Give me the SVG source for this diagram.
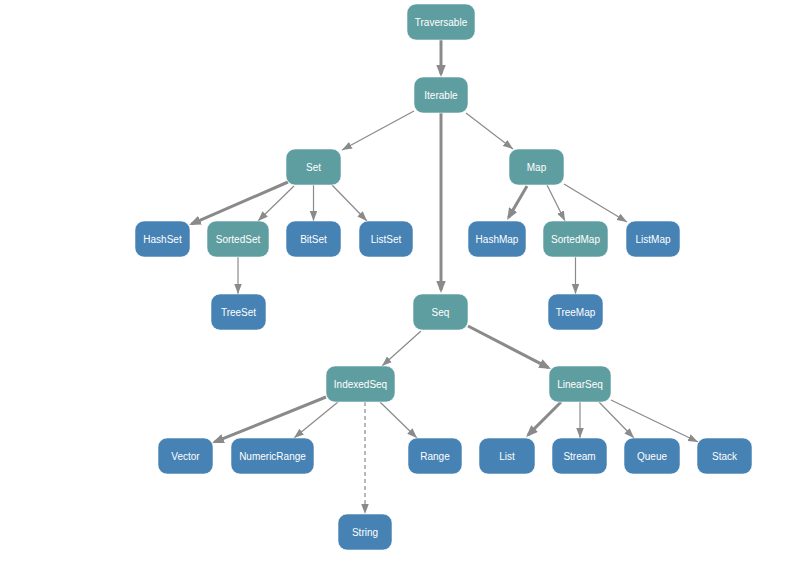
<svg xmlns="http://www.w3.org/2000/svg" width="800" height="584" viewBox="0 0 800 584">
<style>
.n rect{stroke:#ffffff;stroke-opacity:0.55;stroke-width:1}
.t rect{fill:#5F9EA0}
.b rect{fill:#4682B4}
.n text{font-family:"Liberation Sans",Arial,sans-serif;font-size:10px;fill:#ffffff;text-anchor:middle}
.e{fill:none;stroke:#8a8a8a;stroke-width:1.2}
.e.k{stroke-width:3}
.e.d{stroke-dasharray:4,3}
</style>
<defs>
<marker id="a" markerUnits="userSpaceOnUse" markerWidth="10" markerHeight="8" refX="10" refY="3.75" orient="auto">
<path d="M0,0 L10,3.75 L0,7.5 z" fill="#8a8a8a"/>
</marker>
<marker id="ak" markerUnits="userSpaceOnUse" markerWidth="12" markerHeight="10" refX="9" refY="4.75" orient="auto">
<path d="M0,0 L12,4.75 L0,9.5 z" fill="#8a8a8a"/>
</marker>
</defs>
<rect width="800" height="584" fill="#ffffff"/>
<g id="edges">
<line class="e k" x1="441" y1="40" x2="441" y2="74" marker-end="url(#ak)"/>
<line class="e" x1="414" y1="111" x2="342" y2="150" marker-end="url(#a)"/>
<line class="e" x1="466" y1="113" x2="513" y2="149" marker-end="url(#a)"/>
<line class="e k" x1="441" y1="113" x2="441" y2="290" marker-end="url(#ak)"/>
<line class="e k" x1="288" y1="182" x2="191.8" y2="223.8" marker-end="url(#ak)"/>
<line class="e" x1="294" y1="186" x2="258" y2="221" marker-end="url(#a)"/>
<line class="e" x1="313.5" y1="185" x2="313.5" y2="221" marker-end="url(#a)"/>
<line class="e" x1="332" y1="185" x2="367" y2="221" marker-end="url(#a)"/>
<line class="e" x1="238" y1="257" x2="238" y2="294" marker-end="url(#a)"/>
<line class="e k" x1="527" y1="186" x2="508.6" y2="217.4" marker-end="url(#ak)"/>
<line class="e" x1="547" y1="185" x2="565" y2="221" marker-end="url(#a)"/>
<line class="e" x1="564" y1="184" x2="627" y2="222" marker-end="url(#a)"/>
<line class="e" x1="575.5" y1="257" x2="575.5" y2="294" marker-end="url(#a)"/>
<line class="e" x1="421" y1="331" x2="382" y2="366" marker-end="url(#a)"/>
<line class="e k" x1="468" y1="326" x2="548.3" y2="367.6" marker-end="url(#ak)"/>
<line class="e k" x1="326" y1="397" x2="214.8" y2="441.9" marker-end="url(#ak)"/>
<line class="e" x1="338" y1="402" x2="294" y2="438" marker-end="url(#a)"/>
<line class="e d" x1="365" y1="402" x2="365" y2="514" marker-end="url(#a)"/>
<line class="e" x1="380" y1="402" x2="417" y2="438" marker-end="url(#a)"/>
<line class="e k" x1="561" y1="402" x2="528.2" y2="434.9" marker-end="url(#ak)"/>
<line class="e" x1="580" y1="402" x2="580" y2="438" marker-end="url(#a)"/>
<line class="e" x1="599" y1="402" x2="634" y2="438" marker-end="url(#a)"/>
<line class="e" x1="611" y1="400" x2="698" y2="442" marker-end="url(#a)"/>
</g>
<g id="Traversable" class="n t"><rect x="407" y="4" width="68" height="36" rx="9"/><text x="441" y="25.5">Traversable</text></g>
<g id="Iterable" class="n t"><rect x="414" y="77" width="54" height="36" rx="9"/><text x="441" y="98.5">Iterable</text></g>
<g id="Set" class="n t"><rect x="286" y="149" width="55" height="36" rx="9"/><text x="313.5" y="170.5">Set</text></g>
<g id="Map" class="n t"><rect x="509" y="149" width="55" height="36" rx="9"/><text x="536.5" y="170.5">Map</text></g>
<g id="HashSet" class="n b"><rect x="135" y="221" width="55" height="36" rx="9"/><text x="162.5" y="242.5">HashSet</text></g>
<g id="SortedSet" class="n t"><rect x="207" y="221" width="62" height="36" rx="9"/><text x="238" y="242.5">SortedSet</text></g>
<g id="BitSet" class="n b"><rect x="286" y="221" width="55" height="36" rx="9"/><text x="313.5" y="242.5">BitSet</text></g>
<g id="ListSet" class="n b"><rect x="359" y="221" width="54" height="36" rx="9"/><text x="386" y="242.5">ListSet</text></g>
<g id="HashMap" class="n b"><rect x="468" y="221" width="58" height="36" rx="9"/><text x="497" y="242.5">HashMap</text></g>
<g id="SortedMap" class="n t"><rect x="543" y="221" width="65" height="36" rx="9"/><text x="575.5" y="242.5">SortedMap</text></g>
<g id="ListMap" class="n b"><rect x="626" y="221" width="54" height="36" rx="9"/><text x="653" y="242.5">ListMap</text></g>
<g id="TreeSet" class="n b"><rect x="211" y="294" width="55" height="36" rx="9"/><text x="238.5" y="315.5">TreeSet</text></g>
<g id="Seq" class="n t"><rect x="413" y="294" width="55" height="36" rx="9"/><text x="440.5" y="315.5">Seq</text></g>
<g id="TreeMap" class="n b"><rect x="548" y="294" width="55" height="36" rx="9"/><text x="575.5" y="315.5">TreeMap</text></g>
<g id="IndexedSeq" class="n t"><rect x="326" y="366" width="69" height="36" rx="9"/><text x="360.5" y="387.5">IndexedSeq</text></g>
<g id="LinearSeq" class="n t"><rect x="549" y="366" width="62" height="36" rx="9"/><text x="580" y="387.5">LinearSeq</text></g>
<g id="Vector" class="n b"><rect x="158" y="438" width="55" height="36" rx="9"/><text x="185.5" y="459.5">Vector</text></g>
<g id="NumericRange" class="n b"><rect x="231" y="438" width="83" height="36" rx="9"/><text x="272.5" y="459.5">NumericRange</text></g>
<g id="Range" class="n b"><rect x="408" y="438" width="54" height="36" rx="9"/><text x="435" y="459.5">Range</text></g>
<g id="List" class="n b"><rect x="479" y="438" width="56" height="36" rx="9"/><text x="507" y="459.5">List</text></g>
<g id="Stream" class="n b"><rect x="552" y="438" width="55" height="36" rx="9"/><text x="579.5" y="459.5">Stream</text></g>
<g id="Queue" class="n b"><rect x="624" y="438" width="56" height="36" rx="9"/><text x="652" y="459.5">Queue</text></g>
<g id="Stack" class="n b"><rect x="697" y="438" width="55" height="36" rx="9"/><text x="724.5" y="459.5">Stack</text></g>
<g id="String" class="n b"><rect x="338" y="514" width="54" height="36" rx="9"/><text x="365" y="535.5">String</text></g>
</svg>
